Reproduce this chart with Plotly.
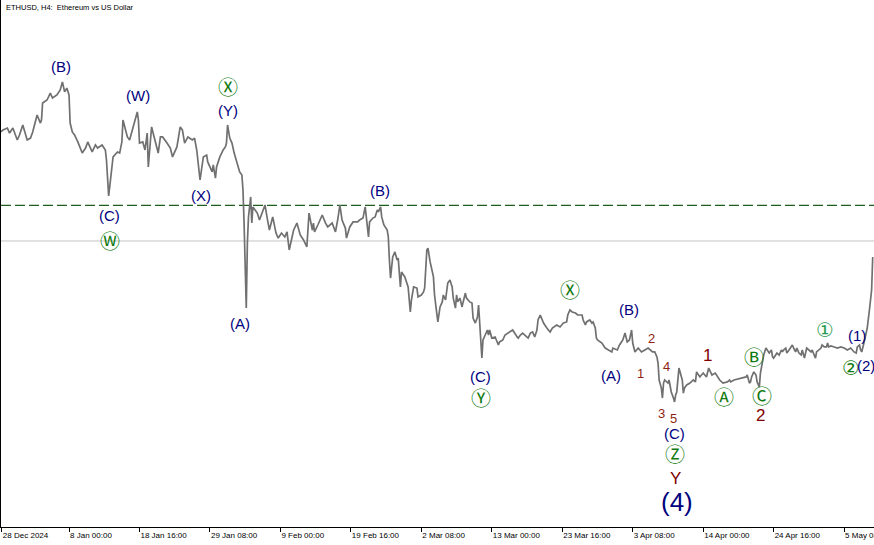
import pandas as pd
import plotly.graph_objects as go

# first H4 bar on the screen, bars are numbered from here (4 hours each)
START = pd.Timestamp("2024-12-28 12:00")

# close path: bar number / price
bar_no = [
    1, 3, 7, 9, 12, 16, 18, 21, 25, 28, 30, 34, 37, 38, 39, 43, 46, 48, 52, 55,
    57, 59, 61, 63, 64, 66, 68, 71, 75, 78, 80, 84, 87, 89, 93, 96, 97, 98, 99, 102,
    103, 107, 109, 111, 112, 116, 118, 121, 125, 126, 127, 130, 132, 134, 135, 137, 138,
    141, 144, 146, 148, 152, 155, 157, 161, 164, 166, 168, 171, 175, 177, 179, 180, 182,
    185, 188, 189, 193, 194, 196, 197, 200, 203, 205, 206, 207, 209, 211, 213, 216, 218,
    220, 221, 222, 223, 224, 225, 226, 228, 229, 230, 234, 236, 238, 241, 243, 245, 248,
    251, 253, 256, 259, 261, 263, 266, 267, 270, 273, 276, 279, 281, 284, 285, 286, 289,
    293, 296, 298, 302, 305, 307, 309, 311, 314, 315, 318, 321, 325, 327, 330, 332, 334,
    335, 336, 339, 341, 343, 344, 346, 347, 349, 352, 353, 354, 355, 357, 359, 361, 362,
    364, 365, 368, 370, 371, 373, 374, 376, 379, 380, 383, 385, 386, 388, 389, 391, 394,
    395, 396, 397, 398, 400,
    402, 403, 405, 406, 407, 409, 411, 412, 414, 415, 416, 418, 420, 421, 423, 424, 427,
    429, 430, 432, 434, 435, 436, 437, 438, 439, 440, 441, 443, 444, 445, 447, 450, 453,
    454, 457, 459, 463, 466, 470, 471, 473, 475, 480, 482, 484, 486, 488, 489, 491, 494,
    497, 500, 502, 506, 509, 512, 515, 516, 518, 520, 523, 525, 529, 530, 532, 533, 536,
    538, 539, 541, 542, 543, 547, 550, 553, 556, 557, 561, 563, 566, 568, 570, 572, 574,
    575, 577, 580, 583, 586, 589, 593, 595, 597, 598, 599, 601, 602, 603, 604, 606, 607,
    608, 610, 612, 613, 614, 615, 617, 618, 620, 621, 622, 624, 627, 630, 632, 633, 636,
    639, 642, 644, 647, 650, 652, 654, 657, 661, 663,
    664, 667, 670, 673, 676, 678, 679, 681, 682, 683, 685, 687, 688, 690, 691, 692, 694,
    696, 697, 699, 701, 702, 703, 705, 706, 708, 710, 711, 712, 714, 715, 717, 719, 720,
    722, 723, 724, 726, 728, 729, 731, 732, 733, 735, 737, 738, 740, 741, 742, 744, 746,
    747, 749, 751, 752, 753, 755, 758, 761, 764, 767, 770, 773, 776, 778, 779, 781, 782,
    783, 785, 787, 788, 790, 791, 792, 793,
]
close = [
    3390, 3404, 3418, 3382, 3418, 3332, 3368, 3440, 3332, 3346, 3390, 3512, 3454, 3476, 3598, 3620, 3670, 3634, 3656, 3692,
    3750, 3678, 3706, 3656, 3454, 3390, 3368, 3318, 3238, 3274, 3318, 3246, 3296, 3274, 3296, 3260, 3188, 3066, 2929, 3138,
    3210, 3246, 3238, 3318, 3476, 3354, 3332, 3418, 3534, 3476, 3310, 3318, 3260, 3382, 3138, 3332, 3426,
    3332, 3238, 3354, 3354, 3310, 3274, 3210, 3282, 3426, 3404, 3310, 3354, 3332, 3346, 3260, 3188, 3044,
    3210, 3224, 3174, 3102, 3152, 3058, 3138, 3210, 3260, 3282, 3310, 3440, 3346, 3310, 3238, 3152, 3102,
    3080, 2972, 2734, 2396, 2122, 2590, 2778, 2922, 2734, 2850, 2806, 2756, 2806, 2864, 2770, 2684, 2778,
    2662, 2626, 2662, 2634, 2670, 2540, 2662, 2684, 2734, 2648, 2612, 2562, 2806, 2684, 2734, 2670, 2720,
    2792, 2734, 2706, 2734, 2670, 2756, 2864, 2756, 2698, 2626, 2706, 2742, 2742, 2756, 2770, 2850, 2698,
    2634, 2742, 2770, 2778, 2828, 2814, 2850, 2778, 2720, 2684, 2634, 2468, 2338, 2490, 2526, 2468, 2482,
    2274, 2382, 2346, 2302, 2274, 2094, 2180, 2274, 2266, 2202, 2216, 2238, 2266, 2540, 2554, 2454, 2346,
    2216, 2122, 2086, 2022, 2130,
    2166, 2216, 2180, 2238, 2302, 2324, 2274, 2194, 2122, 2216, 2166, 2194, 2130, 2166, 2230, 2194, 2166,
    2158, 2050, 2014, 2058, 2144, 2036, 1856, 1762, 1892, 1914, 1928, 1964, 1928, 1964, 1906, 1914, 1856,
    1878, 1892, 1928, 1950, 1964, 1914, 1906, 1928, 1942, 1906, 1942, 1950, 1914, 1964, 2036, 2072, 2014,
    1978, 1950, 1978, 2000, 1986, 2014, 2022, 2072, 2108, 2094, 2086, 2072, 2072, 2036, 2000, 2022, 2036,
    2014, 2022, 1978, 1906, 1892, 1870, 1834, 1820, 1806, 1834, 1820, 1856, 1892, 1942, 1878, 1892, 1964,
    1870, 1806, 1834, 1806, 1820, 1834, 1806, 1806, 1770, 1726, 1604, 1546, 1474, 1582, 1604, 1590, 1582,
    1604, 1518, 1474, 1446, 1496, 1518, 1690, 1662, 1604, 1510, 1546, 1568, 1582, 1604, 1590, 1662, 1626,
    1654, 1626, 1690, 1640, 1654, 1626, 1604, 1582, 1590, 1604,
    1590, 1604, 1611, 1618, 1626, 1626, 1640, 1582, 1590, 1626, 1662, 1640, 1590, 1554, 1654, 1698, 1784,
    1834, 1820, 1798, 1820, 1770, 1762, 1784, 1798, 1784, 1820, 1806, 1820, 1834, 1798, 1820, 1842, 1856,
    1820, 1806, 1834, 1798, 1784, 1820, 1762, 1806, 1834, 1820, 1806, 1820, 1784, 1762, 1806, 1820, 1834,
    1856, 1842, 1842, 1870, 1842, 1849, 1842, 1834, 1842, 1834, 1820, 1834, 1806, 1798, 1842, 1856, 1820,
    1806, 1870, 1942, 1978, 2108, 2194, 2252, 2490,
]

dash_level = 2862   # green dashed level
bid_level = 2605    # light grey price line

tick_times = ["2024-12-28 20:00", "2025-01-08 00:00", "2025-01-18 16:00", "2025-01-29 08:00",
              "2025-02-09 00:00", "2025-02-19 16:00", "2025-03-02 08:00", "2025-03-13 00:00",
              "2025-03-23 16:00", "2025-04-03 08:00", "2025-04-14 00:00", "2025-04-24 16:00",
              "2025-05-05 08:00"]
tick_text = ["28 Dec 2024", "8 Jan 00:00", "18 Jan 16:00", "29 Jan 08:00", "9 Feb 00:00",
             "19 Feb 16:00", "2 Mar 08:00", "13 Mar 00:00", "23 Mar 16:00", "3 Apr 08:00",
             "14 Apr 00:00", "24 Apr 16:00", "5 May 08:00"]

# wave labels
wave_text = ["(B)", "(W)", "Ⓧ", "(Y)", "(X)", "(C)", "Ⓦ", "(A)", "(B)", "(C)", "Ⓨ", "Ⓧ",
             "(B)", "(A)", "1", "2", "4", "3", "5", "(C)", "Ⓩ", "Y", "(4)", "1", "Ⓐ", "Ⓑ",
             "Ⓒ", "2", "①", "(1)", "②", "(2)"]
wave_bar = [56, 126, 207, 207, 183, 100, 100, 218, 345, 437, 437, 518,
            572, 555, 582, 592, 606, 601, 612, 613, 613, 614, 615, 643, 658, 685,
            692, 691, 750, 779, 773, 787]
wave_price = [3858, 3649, 3706, 3541, 2936, 2785, 2598, 2014, 2972, 1626, 1467, 2245,
              2115, 1640, 1654, 1906, 1698, 1366, 1330, 1222, 1064, 898, 726, 1784, 1474, 1762,
              1482, 1345, 1964, 1921, 1690, 1705]
wave_degree = ["paren", "paren", "circle", "paren", "paren", "paren", "circle", "paren",
               "paren", "paren", "circle", "circle", "paren", "paren", "sub", "sub", "sub",
               "sub", "sub", "paren", "circle", "primary", "major", "primary", "circle",
               "circle", "circle", "primary", "circle_alt", "paren", "circle", "paren"]

STYLE = {
    "paren": dict(color="#000080", size=15, family="Liberation Sans, Arial"),
    "circle": dict(color="#107a10", size=20, family="DejaVu Sans, Noto Sans CJK SC"),
    "circle_alt": dict(color="#2a9a50", size=20, family="DejaVu Sans, Noto Sans CJK SC"),
    "sub": dict(color="#8f2410", size=13, family="Liberation Sans, Arial"),
    "primary": dict(color="#800000", size=17, family="Liberation Sans, Arial"),
    "major": dict(color="#000080", size=26, family="Liberation Sans, Arial"),
}


def bar_time(n):
    return START + pd.to_timedelta(4 * pd.Series(n), unit="h")


def main():
    times = bar_time(bar_no)
    label_times = bar_time(wave_bar)

    fig = go.Figure()
    fig.add_trace(go.Scatter(x=times, y=close, mode="lines",
                             line=dict(color="#707070", width=1.7), hoverinfo="skip"))

    fig.add_hline(y=dash_level, line=dict(color="#1e5e1e", width=1.2, dash="10px,4px"), layer="below")
    fig.add_hline(y=bid_level, line=dict(color="#c4c4c4", width=1), layer="below")

    for txt, t, p, deg in zip(wave_text, label_times, wave_price, wave_degree):
        fig.add_annotation(x=t, y=p, text=txt, showarrow=False, font=STYLE[deg])

    fig.add_annotation(xref="paper", yref="paper", x=0, y=1, xanchor="left", yanchor="top",
                       xshift=3, yshift=-1, showarrow=False,
                       text="ETHUSD, H4:  Ethereum vs US Dollar",
                       font=dict(family="Liberation Sans", size=7.5, color="#000000"))

    # 873 px of plot width, 1.1009 px per bar, pixel 1 is bar 1.21
    x0 = START + pd.Timedelta(hours=4 * 1.21)
    x1 = START + pd.Timedelta(hours=4 * 794.16)

    fig.update_layout(
        width=874, height=545,
        margin=dict(l=1, r=0, t=0, b=18),
        paper_bgcolor="white", plot_bgcolor="white",
        showlegend=False,
    )
    fig.update_xaxes(
        range=[x0, x1], showgrid=False, zeroline=False, automargin=False,
        showline=True, linecolor="#000000", linewidth=1,
        ticks="outside", ticklen=4, tickcolor="#000000",
        tickvals=pd.to_datetime(tick_times), ticktext=tick_text,
        ticklabelposition="outside right", ticklabeloverflow="allow",
        tickfont=dict(family="Liberation Sans", size=8, color="#000000"),
    )
    fig.update_yaxes(range=[545.6, 4340], showgrid=False, zeroline=False, automargin=False,
                     showline=True, linecolor="#000000", linewidth=1,
                     showticklabels=False, ticks="")

    fig.write_html("out.html", config={"displayModeBar": False},
                   post_script="document.body.style.margin='0';")


if __name__ == "__main__":
    main()
